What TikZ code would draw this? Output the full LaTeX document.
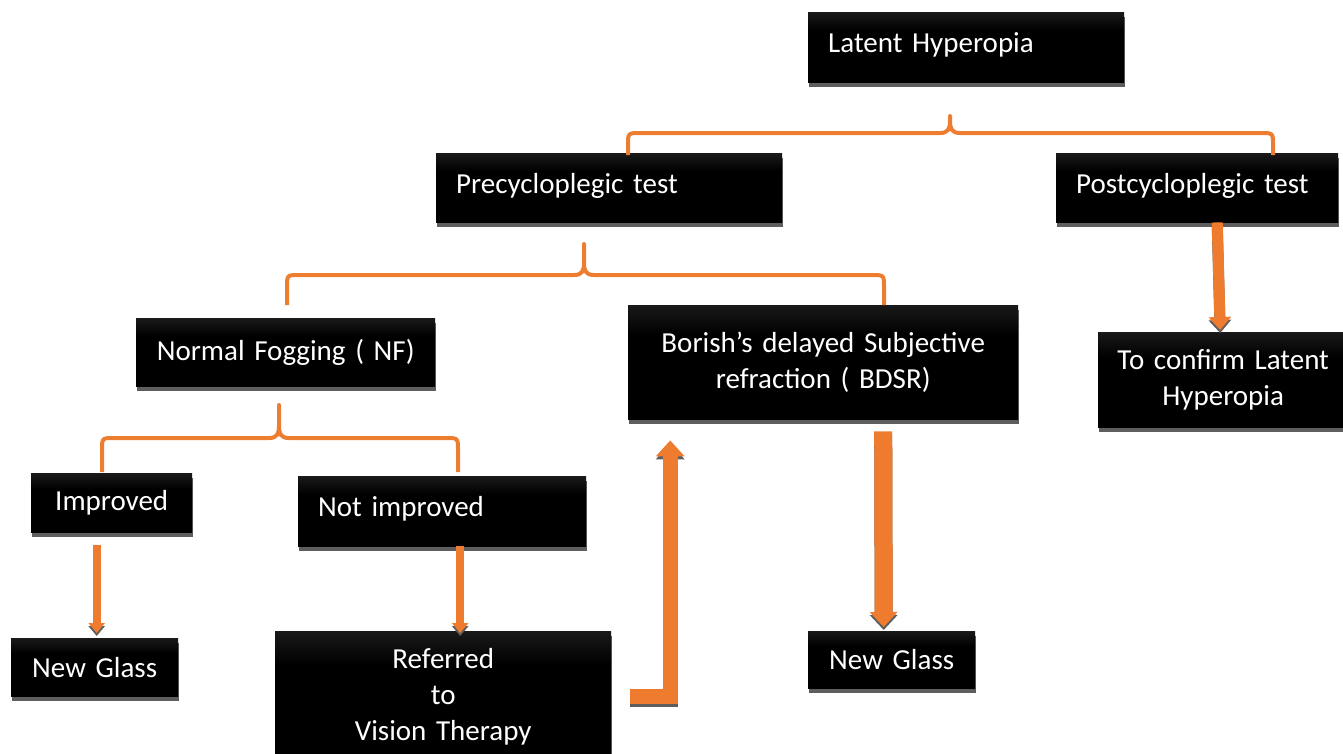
\documentclass[tikz,border=0pt]{standalone}
\usepackage{fontspec}
\setmainfont{Carlito}
\usetikzlibrary{arrows.meta,shadows,calc}
\definecolor{orn}{HTML}{ED7D31}
\definecolor{arr}{HTML}{EF7C2E}
\definecolor{shd}{HTML}{5E5E5E}
\definecolor{boxtop}{HTML}{4A4A4A}
\pgfdeclareverticalshading{boxshade}{100bp}{color(0bp)=(black); color(62bp)=(black); color(100bp)=(boxtop)}
\tikzset{
  box/.style={shading=boxshade, text=white, anchor=north west, inner ysep=0pt,
    font=\fontsize{29}{36}\selectfont,
    drop shadow={shadow xshift=1pt, shadow yshift=-5pt, fill=shd, opacity=1}},
  lbox/.style 2 args={box, minimum width=#1, minimum height=#2, text width=#1-40pt, inner xsep=20pt, align=left},
  cbox/.style 2 args={box, minimum width=#1, minimum height=#2, text width=#1-10pt, inner xsep=5pt, align=center},
  brc/.style={draw=orn, line width=4pt, line join=round},
  fat/.style n args={3}{draw=arr, line width=#1, -{Triangle[width=#2,length=#3]},
    preaction={draw=shd, line width=#1, -{Triangle[width=#2,length=#3]}, transform canvas={yshift=-3pt}}},
}
\newcommand\mybrace[6]{% xl xr xm yend yline ytip
  \draw[brc] (#1,#4) -- (#1,#5+12) .. controls (#1,#5) .. (#1+12,#5) -- (#3-10,#5)
    .. controls (#3-2,#5) and (#3,#5-4) .. (#3,#5-12) -- (#3,#6) -- (#3,#5-12)
    .. controls (#3,#5-4) and (#3+2,#5) .. (#3+10,#5) -- (#2-12,#5)
    .. controls (#2,#5) .. (#2,#5+12) -- (#2,#4);}
\begin{document}
\begin{tikzpicture}[x=1pt,y=-1pt]
\useasboundingbox (0,0) rectangle (1343,753);
% nodes
\node[lbox={316pt}{70pt}, text depth=9pt] (lh) at (808,12) {Latent Hyperopia};
\node[lbox={346pt}{69pt}, text depth=9pt] (pre) at (436,153) {Precycloplegic test};
\node[lbox={282pt}{69pt}, text depth=9pt] (post) at (1056,153) {Postcycloplegic test};
\node[cbox={299pt}{68pt}] (nf) at (136,318) {Normal Fogging ( NF)};
\node[cbox={390pt}{114pt}] (bdsr) at (628,305) {Borish’s delayed Subjective\\refraction ( BDSR)};
\node[cbox={161pt}{59pt}] (imp) at (31,473) {Improved};
\node[lbox={288pt}{70pt}, text depth=9pt] (notimp) at (298,476) {Not improved};
\node[cbox={167pt}{58pt}] (ng1) at (11,638) {New Glass};
\node[cbox={336pt}{132pt}] (ref) at (275,631) {Referred\\to\\Vision Therapy};
\node[cbox={167pt}{57pt}] (ng2) at (808,631) {New Glass};
\node[cbox={250pt}{95pt}] (conf) at (1098,332) {To confirm Latent\\Hyperopia};
% braces
\mybrace{628}{1273}{950}{155}{133}{116}
\mybrace{287}{884}{584}{305}{275}{244}
\mybrace{102}{458}{279}{472}{438}{405}
% arrows
\draw[fat={8pt}{16pt}{10pt}] ($(imp.south -| ng1.north)+(2,13)$) -- ($(ng1.north)+(2,-5)$);
\draw[fat={8pt}{16pt}{10pt}] ($(notimp.south)+(18,0)$) -- ($(ref.north)+(17,2)$);
\draw[fat={18pt}{27pt}{15pt}] ($(bdsr.south)+(60,12)$) -- ($(ng2.north)+(-8,-4)$);
\draw[fat={11pt}{22pt}{13pt}] ($(post.south)+(20,0)$) -- ($(conf.north)+(-3,-2)$);
\coordinate (e1) at (630,696);
\draw[fat={15pt}{28pt}{16pt}, line join=miter] (e1) -| ($(bdsr.south)+(-153,21)$);
\end{tikzpicture}
\end{document}
